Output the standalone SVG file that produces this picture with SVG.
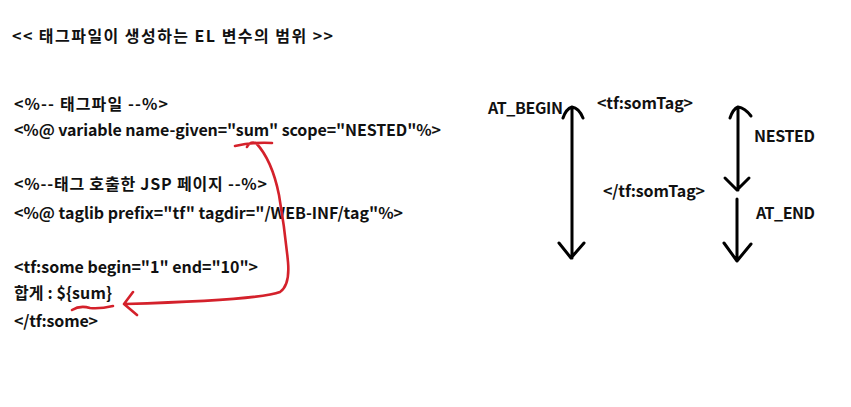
<svg xmlns="http://www.w3.org/2000/svg" width="851" height="407" viewBox="0 0 851 407">
<style>
text{font-family:"Noto Sans CJK KR","Malgun Gothic",sans-serif;font-weight:bold;font-size:16px;fill:#111}
.blk{fill:none;stroke:#000;stroke-width:3;stroke-linecap:round;stroke-linejoin:round}
.red{fill:none;stroke:#d4212b;stroke-width:2.6;stroke-linecap:round;stroke-linejoin:round}
</style>
<rect width="851" height="407" fill="#fff"/>
<g id="title"><text x="12" y="42" textLength="321" lengthAdjust="spacing">&lt;&lt; 태그파일이 생성하는 EL 변수의 범위 &gt;&gt;</text></g>
<g id="code">
<text x="14" y="110" textLength="154" lengthAdjust="spacing">&lt;%-- 태그파일 --%&gt;</text>
<text x="14" y="136" textLength="427" lengthAdjust="spacing">&lt;%@ variable name-given="sum" scope="NESTED"%&gt;</text>
<text x="14" y="190" textLength="253" lengthAdjust="spacing">&lt;%--태그 호출한 JSP 페이지 --%&gt;</text>
<text x="14" y="219" textLength="389" lengthAdjust="spacing">&lt;%@ taglib prefix="tf" tagdir="/WEB-INF/tag"%&gt;</text>
<text x="14" y="273" textLength="244" lengthAdjust="spacing">&lt;tf:some begin="1" end="10"&gt;</text>
<text x="14" y="299" textLength="98" lengthAdjust="spacing">합게 : ${sum}</text>
<text x="14" y="327" textLength="84" lengthAdjust="spacing">&lt;/tf:some&gt;</text>
</g>
<g id="labels">
<text x="488" y="114" textLength="75" lengthAdjust="spacing">AT_BEGIN</text>
<text x="597" y="109" textLength="96" lengthAdjust="spacing">&lt;tf:somTag&gt;</text>
<text x="754" y="142" textLength="61" lengthAdjust="spacing">NESTED</text>
<text x="603" y="197" textLength="102" lengthAdjust="spacing">&lt;/tf:somTag&gt;</text>
<text x="756" y="219" textLength="59" lengthAdjust="spacing">AT_END</text>
</g>
<g id="connectors">
<path class="blk" d="M572 108 L572 258 M563 118 Q566 109 572 107 Q579 108 583 118 M559 243 L571 258 L584 243"/>
<path class="blk" d="M738 108 L738 190 M730 118 Q733 109 738 107 Q745 108 751 116 M725 178 L737 190 L749 178"/>
<path class="blk" d="M737 199 L737 261 M724 243 L737 261 L751 244"/>
<path class="red" d="M235 146 Q252 142 272 143 M247 147 Q250 141 256 143 Q272 160 279 195 Q285 230 288 262 Q290 285 280 292 Q260 300 125 304 M133 292 L124 304 L137 315"/>
<path class="red" d="M72 310 Q80 305 90 308 Q100 309 113 306"/>
</g>
</svg>
